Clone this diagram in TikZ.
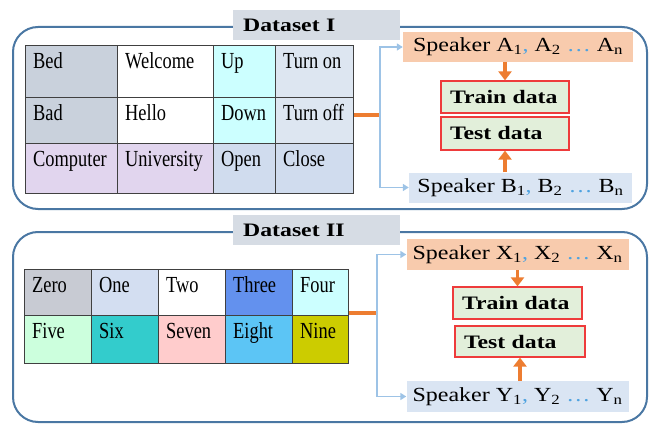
\documentclass[tikz,border=0pt]{standalone}
\usepackage{fontspec}
\setmainfont{Liberation Serif}
\newfontfamily\cellfont[FakeStretch=0.8]{Liberation Serif}
\newfontfamily\widefont[FakeStretch=1.25]{Liberation Serif}
\newfontfamily\spkfont[FakeStretch=1.2]{Liberation Serif}
\usepackage{tikz}
\usetikzlibrary{arrows.meta,positioning,calc}

\definecolor{panelblue}{HTML}{4A77A3}
\definecolor{titlegray}{HTML}{D6DCE4}
\definecolor{cellline}{HTML}{404040}
\definecolor{bedgray}{HTML}{C9D1DC}
\definecolor{upcyan}{HTML}{CCFFFF}
\definecolor{turnblue}{HTML}{DDE6F1}
\definecolor{lavender}{HTML}{E1D5EE}
\definecolor{openblue}{HTML}{D0DCEE}
\definecolor{zerogray}{HTML}{C8CBD3}
\definecolor{oneblue}{HTML}{D3DEF1}
\definecolor{threeblue}{HTML}{6391EE}
\definecolor{fivemint}{HTML}{CCFFDD}
\definecolor{sixteal}{HTML}{33CCCC}
\definecolor{sevenpink}{HTML}{FFCCCC}
\definecolor{eightsky}{HTML}{5CC5F5}
\definecolor{nineolive}{HTML}{CCCC00}
\definecolor{peach}{HTML}{F8CBAD}
\definecolor{spkblue}{HTML}{DAE5F3}
\definecolor{traingreen}{HTML}{E2EFDA}
\definecolor{trainred}{HTML}{EE3B3B}
\definecolor{orangeln}{HTML}{ED7D31}
\definecolor{lineblue}{HTML}{9DC3E6}
\definecolor{dotblue}{HTML}{4FA3E0}

\newcommand{\bluetxt}[1]{\textcolor{dotblue}{#1}}

\tikzset{
  panel/.style={draw=panelblue, line width=2pt, rounded corners=25pt},
  title/.style={fill=titlegray, anchor=north west, minimum height=30pt,
    inner xsep=10pt, text width=147pt, align=left,
    font=\widefont\fontsize{19}{19}\selectfont\bfseries},
  cell/.style={draw=cellline, line width=0.8pt, anchor=north west, inner sep=0pt},
  celltext/.style={anchor=north west, inner sep=0pt, text height=16pt, text depth=5pt,
    font=\cellfont\fontsize{23}{23}\selectfont},
  spk/.style={minimum height=30pt, inner xsep=6pt,
    font=\spkfont\fontsize{20}{20}\selectfont},
  datbox/.style={fill=traingreen, draw=trainred, line width=1.2pt, inner xsep=9pt,
    text width=110pt, align=left, font=\widefont\fontsize{19}{19}\selectfont\bfseries},
  orangeline/.style={draw=orangeln, line width=3.5pt},
  orangearrow/.style={draw=orangeln, line width=3.5pt, -{Triangle[length=9pt,width=13pt]}},
  blueline/.style={draw=lineblue, line width=1.5pt, -{Triangle[length=6pt,width=7pt]}}
}

\begin{document}
\begin{tikzpicture}[x=1pt, y=-1pt]
\useasboundingbox (0,0) rectangle (656,425);

% Dataset I
\draw[panel] (13,27) rectangle (647,209);
\node[title] (title1) at (233,10) {Dataset I};

\foreach \n/\x/\y/\w/\h/\c/\t in {
  bed/25/45/92/52/bedgray/Bed, welcome/117/45/96/52/white/Welcome,
  up/213/45/62/52/upcyan/Up, turnon/275/45/78/52/turnblue/Turn on,
  bad/25/97/92/46/bedgray/Bad, hello/117/97/96/46/white/Hello,
  down/213/97/62/46/upcyan/Down, turnoff/275/97/78/46/turnblue/Turn off,
  computer/25/143/92/50/lavender/Computer, university/117/143/96/50/lavender/University,
  open/213/143/62/50/openblue/Open, close/275/143/78/50/openblue/Close}
{
  \node[cell, fill=\c, minimum width=\w pt, minimum height=\h pt] (\n) at (\x,\y) {};
  \node[celltext] (\n-t) at ([xshift=8pt,yshift=-7pt]\n.north west) {\t};
}

\node[spk, fill=peach, minimum width=230pt] (spkA) at (518,47)
  {Speaker A\textsubscript{1}\bluetxt{,} A\textsubscript{2} \bluetxt{\dots} A\textsubscript{n}};
\node[spk, fill=spkblue, minimum width=223pt] (spkB) at (520.5,187.5)
  {Speaker B\textsubscript{1}\bluetxt{,} B\textsubscript{2} \bluetxt{\dots} B\textsubscript{n}};
\node[datbox, minimum height=32pt] (train1) at (505,97) {Train data};
\node[datbox, minimum height=33pt] (test1) at (505,133.5) {Test data};

\coordinate (j1) at (380,115);
\draw[orangeline] (j1 -| turnoff.east) -- (j1);
\draw[blueline] (j1) |- (spkA.west);
\draw[blueline] (j1) |- (spkB.west);
\draw[orangearrow] (spkA.south -| train1.north) -- (train1.north);
\draw[orangearrow] (spkB.north -| test1.south) -- (test1.south);

% Dataset II
\draw[panel] (13,232) rectangle (647,422);
\node[title] (title2) at (233,215) {Dataset II};

\foreach \n/\x/\y/\w/\h/\c/\t in {
  zero/24/269/67/46/zerogray/Zero, one/91/269/67/46/oneblue/One,
  two/158/269/67/46/white/Two, three/225/269/67/46/threeblue/Three,
  four/292/269/56/46/upcyan/Four,
  five/24/315/67/48/fivemint/Five, six/91/315/67/48/sixteal/Six,
  seven/158/315/67/48/sevenpink/Seven, eight/225/315/67/48/eightsky/Eight,
  nine/292/315/56/48/nineolive/Nine}
{
  \node[cell, fill=\c, minimum width=\w pt, minimum height=\h pt] (\n) at (\x,\y) {};
  \node[celltext] (\n-t) at ([xshift=8pt,yshift=-7pt]\n.north west) {\t};
}

\node[spk, fill=peach, minimum width=219pt, minimum height=31pt] (spkX) at (517.5,254.5)
  {Speaker X\textsubscript{1}\bluetxt{,} X\textsubscript{2} \bluetxt{\dots} X\textsubscript{n}};
\node[spk, fill=spkblue, minimum width=219pt, minimum height=31pt] (spkY) at (517.5,396.5)
  {Speaker Y\textsubscript{1}\bluetxt{,} Y\textsubscript{2} \bluetxt{\dots} Y\textsubscript{n}};
\node[datbox, minimum height=32pt, text width=111pt] (train2) at (517.5,303) {Train data};
\node[datbox, minimum height=31pt, text width=112pt] (test2) at (520,341.5) {Test data};

\coordinate (j2) at (377,313);
\draw[orangeline] (j2 -| four.east) -- (j2);
\draw[blueline] (j2) |- (spkX.west);
\draw[blueline] (j2) |- (spkY.west);
\draw[orangearrow] (spkX.south -| train2.north) -- (train2.north);
\draw[orangearrow] (spkY.north -| test2.south) -- (test2.south);
\end{tikzpicture}
\end{document}
